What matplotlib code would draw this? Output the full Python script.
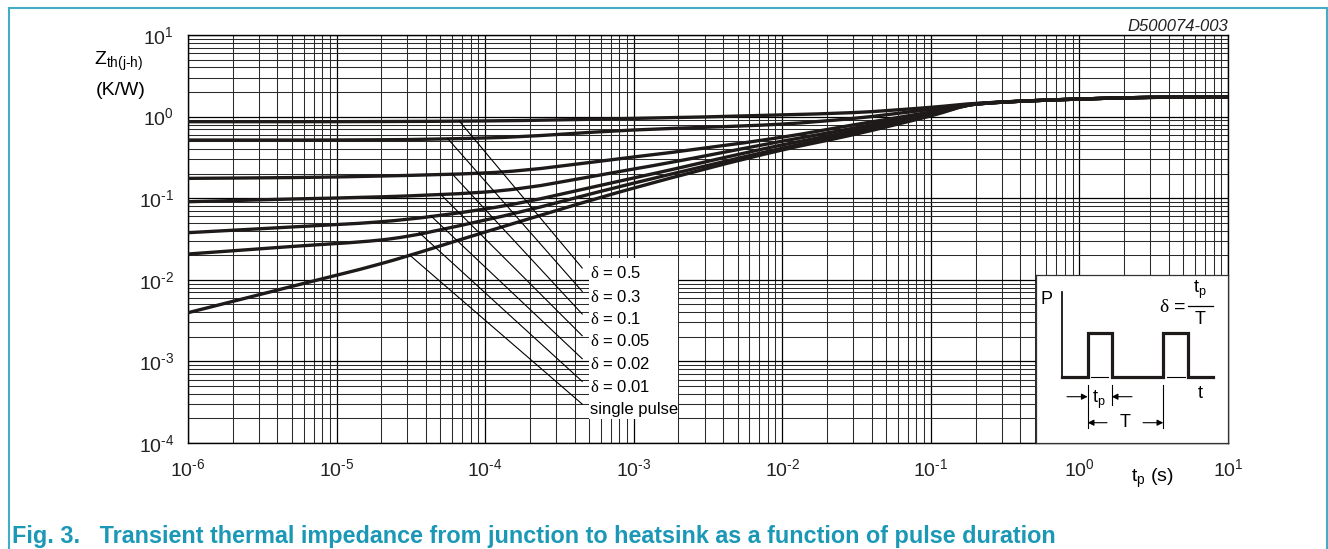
import numpy as np
import matplotlib.pyplot as plt
from matplotlib.patches import Rectangle, PathPatch
from matplotlib.path import Path
from matplotlib.ticker import LogLocator, FuncFormatter

plt.rcParams['font.family'] = ['Liberation Sans', 'DejaVu Sans']
plt.rcParams['mathtext.fontset'] = 'custom'
plt.rcParams['mathtext.rm'] = 'Liberation Sans'
plt.rcParams['mathtext.it'] = 'Liberation Sans:italic'
plt.rcParams['mathtext.sf'] = 'Liberation Serif'
plt.rcParams['axes.unicode_minus'] = False

# pulse duration (s)
t_s = [1e-6, 5e-6, 2e-5, 1e-4, 1e-3, 1e-2, 3e-2, 0.1, 0.2, 0.5, 1.0, 3.0, 10.0]

# Zth(j-h) in K/W, one list per duty cycle
z_d05 = [0.866, 0.866, 0.87, 0.885, 0.95, 1.05, 1.12, 1.30, 1.45, 1.57, 1.64, 1.72, 1.74]
z_d03 = [0.516, 0.516, 0.52, 0.547, 0.685, 0.81, 0.95, 1.23, 1.44, 1.57, 1.64, 1.72, 1.74]
z_d01 = [0.175, 0.179, 0.187, 0.204, 0.32, 0.56, 0.79, 1.14, 1.43, 1.57, 1.64, 1.72, 1.74]
z_d005 = [0.0905, 0.0977, 0.104, 0.119, 0.228, 0.50, 0.72, 1.11, 1.42, 1.57, 1.64, 1.72, 1.74]
z_d002 = [0.0378, 0.0444, 0.0515, 0.0738, 0.177, 0.45, 0.667, 1.08, 1.42, 1.57, 1.64, 1.72, 1.74]
z_d001 = [0.0207, 0.0256, 0.0308, 0.054, 0.153, 0.41, 0.63, 1.05, 1.42, 1.57, 1.64, 1.72, 1.74]
z_single = [0.00395, 0.0083, 0.0158, 0.0385, 0.133, 0.39, 0.60, 1.02, 1.42, 1.57, 1.64, 1.72, 1.74]

curves = [z_d05, z_d03, z_d01, z_d005, z_d002, z_d001, z_single]
labels = ["0.5", "0.3", "0.1", "0.05", "0.02", "0.01", "single pulse"]
leader_t = [6.7e-5, 5.6e-5, 6.0e-5, 5.0e-5, 4.3e-5, 3.6e-5, 3.1e-5]
label_logz = [-1.92, -2.207, -2.484, -2.75, -3.032, -3.31, -3.588]


def pow10(v, pos):
    e = int(round(np.log10(v)))
    if e < 0:
        return r"$\mathregular{10^{\text{-}%d}}$" % (-e)
    return r"$\mathregular{10^{%d}}$" % e


def smooth_path(t, z):
    # monotone cubic (Fritsch-Carlson) through the points, as bezier segments in log-log
    x = np.log10(t)
    y = np.log10(z)
    h = np.diff(x)
    d = np.diff(y) / h
    m = np.zeros_like(x)
    m[0], m[-1] = d[0], d[-1]
    for i in range(1, len(x) - 1):
        if d[i - 1] * d[i] > 0:
            w1 = 2 * h[i] + h[i - 1]
            w2 = h[i] + 2 * h[i - 1]
            m[i] = (w1 + w2) / (w1 / d[i - 1] + w2 / d[i])
    verts = [(x[0], y[0])]
    codes = [Path.MOVETO]
    for i in range(len(x) - 1):
        verts += [(x[i] + h[i] / 3, y[i] + m[i] * h[i] / 3),
                  (x[i + 1] - h[i] / 3, y[i + 1] - m[i + 1] * h[i] / 3),
                  (x[i + 1], y[i + 1])]
        codes += [Path.CURVE4] * 3
    return Path(10 ** np.array(verts), codes)


fig = plt.figure(figsize=(13.28, 5.49), dpi=100)
ax = fig.add_axes([188/1328, 106/549, 1040/1328, 408/549])
ax.set_xscale("log")
ax.set_yscale("log")
ax.set_xlim(1e-6, 10)
ax.set_ylim(1e-4, 10)

ax.xaxis.set_major_locator(LogLocator(base=10, numticks=20))
ax.xaxis.set_minor_locator(LogLocator(base=10, subs=np.arange(2, 10), numticks=20))
ax.yaxis.set_major_locator(LogLocator(base=10, numticks=20))
ax.yaxis.set_minor_locator(LogLocator(base=10, subs=np.arange(2, 10), numticks=20))
ax.xaxis.set_major_formatter(FuncFormatter(pow10))
ax.yaxis.set_major_formatter(FuncFormatter(pow10))
ax.grid(True, which="major", color="black", lw=0.9, zorder=1)
ax.grid(True, which="minor", color="#2a2a2a", lw=0.75, zorder=1)
ax.set_axisbelow(True)
ax.tick_params(which="both", length=0, labelsize=14, colors="#222222")
ax.tick_params(axis="x", pad=11)
ax.tick_params(axis="y", pad=10)
for s in ax.spines.values():
    s.set_linewidth(1.0)

for z in curves:
    ax.add_patch(PathPatch(smooth_path(t_s, z), facecolor="none", edgecolor="#1e1a1a",
                           lw=2.4, capstyle="butt", zorder=3))

# label block with leader lines
ax.add_patch(Rectangle((5.0e-4, 1.97e-4), 2.0e-3 - 5.0e-4, 0.0185 - 1.97e-4,
                       facecolor="white", edgecolor="none", zorder=4))
lt = np.log10(t_s)
for z, t0, lab, ly in zip(curves, leader_t, labels, label_logz):
    z0 = 10 ** np.interp(np.log10(t0), lt, np.log10(z))
    ax.plot([t0, 4.5e-4], [z0, 10 ** (ly + 0.065)], color="black", lw=0.8, zorder=5)
    if lab == "single pulse":
        ax.text(5.1e-4, 10 ** ly, lab, fontsize=12, va="center", ha="left", zorder=6)
    else:
        ax.text(5.1e-4, 10 ** ly, r"$\mathsf{\delta}$ = " + lab, fontsize=12,
                va="center", ha="left", zorder=6)

ax.text(-0.067, 0.926, r"$\mathregular{Z_{th(j\text{-}h)}}$", transform=ax.transAxes,
        fontsize=14, ha="center", va="baseline")
ax.text(-0.065, 0.865, "(K/W)", transform=ax.transAxes, fontsize=14,
        ha="center", va="center")
ax.text(0.927, -0.086, r"$\mathregular{t_p}$ (s)", transform=ax.transAxes,
        fontsize=14, ha="center", va="center")
ax.text(1.0, 1.011, "D500074-003", transform=ax.transAxes, fontsize=12,
        style="italic", ha="right", va="baseline", color="#222222")

# inset: pulse definition
ins = fig.add_axes([1036/1328, 106/549, 192/1328, 168/549], zorder=10)
ins.set_xlim(1036, 1228)
ins.set_ylim(443, 275)
ins.set_xticks([])
ins.set_yticks([])
for s in ins.spines.values():
    s.set_linewidth(0.9)
    s.set_color("#333333")
ins.plot([1061.7, 1061.7], [291.7, 377.3], color="black", lw=1.2)
ins.plot([1061.7, 1087.7, 1087.7, 1111.7, 1111.7, 1163.3, 1163.3, 1188.3, 1188.3, 1213.3],
         [377.3, 377.3, 333.3, 333.3, 377.3, 377.3, 333.3, 333.3, 377.3, 377.3],
         color="#1e1a1a", lw=2.3, solid_joinstyle="miter")
ins.plot([1091, 1108], [377.3, 377.3], color="black", lw=0.8)
ins.plot([1167, 1185], [377.3, 377.3], color="black", lw=0.8)
ins.plot([1087.7, 1087.7], [385, 428], color="black", lw=0.8)
ins.plot([1111.7, 1111.7], [385, 405], color="black", lw=0.8)
ins.plot([1163.3, 1163.3], [385, 428], color="black", lw=0.8)
arr = dict(arrowstyle="-|>", color="black", lw=0.8, mutation_scale=9,
           shrinkA=0, shrinkB=0)
ins.annotate("", xy=(1087.7, 396.7), xytext=(1067, 396.7), arrowprops=arr)
ins.annotate("", xy=(1111.7, 396.7), xytext=(1132, 396.7), arrowprops=arr)
ins.annotate("", xy=(1087.7, 422.7), xytext=(1107, 422.7), arrowprops=arr)
ins.annotate("", xy=(1163.3, 422.7), xytext=(1143, 422.7), arrowprops=arr)
ins.text(1047, 300, "P", fontsize=13, ha="center", va="center")
ins.text(1200, 393, "t", fontsize=13, ha="center", va="center")
ins.text(1099, 400, r"$\mathregular{t_p}$", fontsize=13, ha="center", va="center")
ins.text(1125, 422.7, "T", fontsize=13, ha="center", va="center")
ins.text(1173, 308, r"$\mathsf{\delta}$ =", fontsize=14, ha="center", va="center")
ins.text(1200, 290, r"$\mathregular{t_p}$", fontsize=13, ha="center", va="center")
ins.plot([1188, 1213], [305.7, 305.7], color="black", lw=0.9)
ins.text(1200, 320, "T", fontsize=13, ha="center", va="center")

# frame and caption
fig.patches.append(Rectangle((9/1328, -0.1), 1318/1328, 0.1 + 540.7/549,
                             transform=fig.transFigure, fill=False,
                             edgecolor="#45acc8", lw=1.5))
fig.text(12/1328, 5.5/549, "Fig. 3.   Transient thermal impedance from junction to heatsink as a function of pulse duration",
         fontsize=16.8, fontweight="bold", color="#1b98b6", ha="left", va="baseline")

fig.savefig("out.png", dpi=100)
